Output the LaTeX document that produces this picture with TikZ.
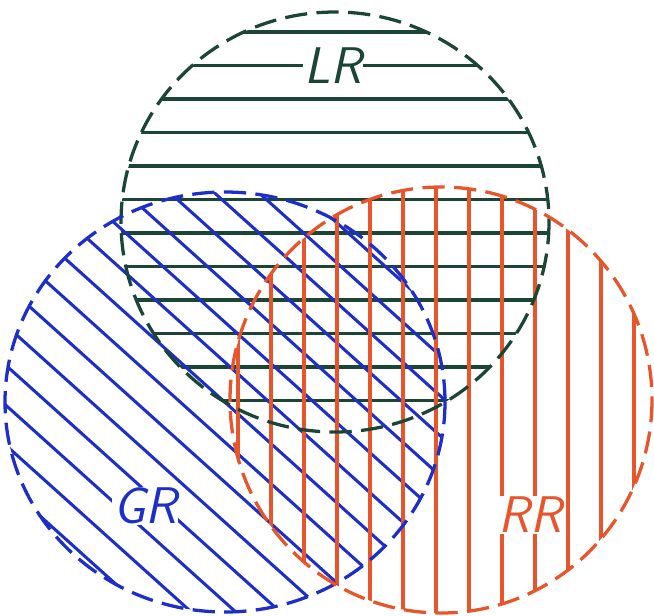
\documentclass[tikz,border=0pt]{standalone}
\usepackage{tikz}
\definecolor{lrgreen}{HTML}{1B4636}
\definecolor{grblue}{HTML}{1E2EC8}
\definecolor{rrred}{HTML}{E8552A}
\begin{document}
\begin{tikzpicture}[x=0.03cm, y=-0.03cm,
  rim/.style={line width=2.8pt, dash pattern=on 19pt off 8pt},
  hatch/.style={line width=2.6pt},
  tag/.style={font=\fontsize{44}{48}\selectfont\sffamily\itshape, fill=white, inner sep=1pt}]
\useasboundingbox (0,0) rectangle (654,615);
% hatching of the three sets
\begin{scope}
  \clip (335,222) ellipse [x radius=214, y radius=210];
  \foreach \y in {32,65.5,...,440} \draw[hatch, lrgreen] (100,\y) -- (560,\y);
\end{scope}
\begin{scope}
  \clip (225,402) ellipse [x radius=220, y radius=210];
  \foreach \c in {-600,-560,...,620} \draw[hatch, grblue] (0,\c) -- (654,\c+588);
\end{scope}
\begin{scope}
  \clip (441,400) ellipse [x radius=211, y radius=213];
  \foreach \x in {238,271,...,660} \draw[hatch, rrred] (\x,180) -- (\x,615);
\end{scope}
% labels
\node[tag, text=lrgreen] (lr) at (333,66) {LR};
\node[tag, text=grblue] (gr) at (145,506) {GR};
\node[tag, text=rrred] (rr) at (530,515) {RR};
% outlines
\draw[rim, lrgreen] (335,222) ellipse [x radius=214, y radius=210];
\draw[rim, grblue] (225,402) ellipse [x radius=220, y radius=210];
\draw[rim, rrred] (441,400) ellipse [x radius=211, y radius=213];
\end{tikzpicture}
\end{document}
